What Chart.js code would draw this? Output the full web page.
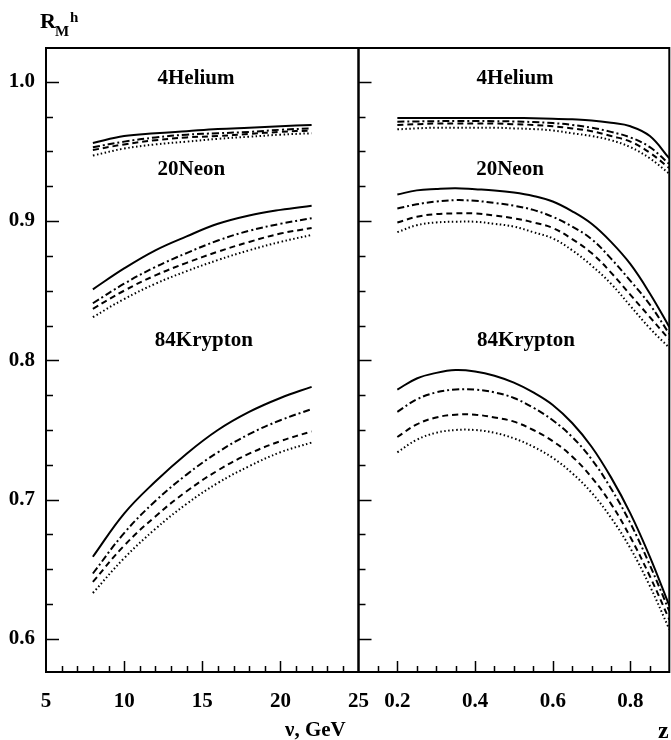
<!DOCTYPE html>
<html>
<head>
<meta charset="utf-8">
<script src="https://cdn.jsdelivr.net/npm/chart.js@4.4.1/dist/chart.umd.min.js"></script>
<style>
  html, body { margin: 0; padding: 0; background: #fff; }
  #wrap { position: relative; width: 671px; height: 740px; overflow: hidden; background: #fff; }
  canvas { position: absolute; left: 0; top: 0; }
  .lbl { position: absolute; font-family: "Liberation Serif", "Times New Roman", serif; font-weight: bold; color: #000; white-space: nowrap; line-height: 1; }
</style>
</head>
<body>
<div id="wrap">
  <canvas id="nuChart" width="671" height="740"></canvas>
  <canvas id="zChart" width="671" height="740"></canvas>
  <span class="lbl" style="left:40px; top:10px; font-size:22px;">R</span>
  <span class="lbl" style="left:55px; top:24px; font-size:15px;">M</span>
  <span class="lbl" style="left:70px; top:10px; font-size:15px;">h</span>
  <span class="lbl" style="left:285px; top:719px; font-size:21px;">ν, GeV</span>
  <span class="lbl" style="left:658px; top:718px; font-size:24px;">z</span>
</div>
<script>
// x positions of the computed points
const nuValues = [8, 10, 12, 14, 16, 18, 20, 22];
const zValues = [0.2, 0.25, 0.3, 0.35, 0.4, 0.45, 0.5, 0.55, 0.6, 0.65, 0.7, 0.75, 0.8, 0.85, 0.9];

// tick labels
const yTickValues = [0.6, 0.7, 0.8, 0.9, 1.0];
const nuTickValues = [5, 10, 15, 20, 25];
const zTickValues = [0.2, 0.4, 0.6, 0.8];
const nucleusNames = ['4Helium', '20Neon', '84Krypton'];

// R vs nu
const heliumNuSolid   = [0.956, 0.961, 0.963, 0.9645, 0.966, 0.967, 0.968, 0.969];
const heliumNuDashDot = [0.953, 0.957, 0.960, 0.962, 0.963, 0.964, 0.9655, 0.9665];
const heliumNuDashed  = [0.951, 0.955, 0.958, 0.960, 0.961, 0.9625, 0.964, 0.965];
const heliumNuDotted  = [0.947, 0.952, 0.955, 0.957, 0.959, 0.9605, 0.962, 0.963];

const neonNuSolid   = [0.851, 0.866, 0.879, 0.889, 0.898, 0.904, 0.908, 0.911];
const neonNuDashDot = [0.841, 0.855, 0.867, 0.877, 0.886, 0.893, 0.898, 0.902];
const neonNuDashed  = [0.837, 0.850, 0.861, 0.870, 0.878, 0.885, 0.891, 0.895];
const neonNuDotted  = [0.831, 0.844, 0.855, 0.864, 0.872, 0.879, 0.885, 0.890];

const kryptonNuSolid   = [0.659, 0.690, 0.713, 0.733, 0.750, 0.763, 0.773, 0.781];
const kryptonNuDashDot = [0.647, 0.676, 0.699, 0.718, 0.734, 0.747, 0.757, 0.765];
const kryptonNuDashed  = [0.641, 0.667, 0.688, 0.706, 0.721, 0.733, 0.742, 0.749];
const kryptonNuDotted  = [0.633, 0.658, 0.679, 0.697, 0.712, 0.724, 0.734, 0.741];

// R vs z
const heliumZSolid   = [0.974, 0.974, 0.974, 0.974, 0.974, 0.974, 0.974, 0.9738, 0.9735, 0.973, 0.9722, 0.9705, 0.968, 0.961, 0.945];
const heliumZDashDot = [0.9713, 0.9715, 0.9717, 0.9718, 0.9718, 0.9717, 0.9715, 0.971, 0.9703, 0.969, 0.967, 0.964, 0.960, 0.953, 0.941];
const heliumZDashed  = [0.969, 0.9695, 0.970, 0.970, 0.970, 0.970, 0.9695, 0.969, 0.968, 0.9665, 0.9645, 0.961, 0.957, 0.949, 0.938];
const heliumZDotted  = [0.9658, 0.9665, 0.967, 0.967, 0.967, 0.967, 0.9665, 0.966, 0.965, 0.963, 0.961, 0.958, 0.953, 0.945, 0.934];

const neonZSolid   = [0.919, 0.922, 0.923, 0.9235, 0.9228, 0.922, 0.9205, 0.918, 0.914, 0.907, 0.898, 0.885, 0.869, 0.848, 0.824];
const neonZDashDot = [0.909, 0.912, 0.914, 0.915, 0.9145, 0.913, 0.911, 0.908, 0.903, 0.896, 0.887, 0.873, 0.857, 0.840, 0.819];
const neonZDashed  = [0.899, 0.903, 0.905, 0.9055, 0.9055, 0.904, 0.902, 0.899, 0.895, 0.887, 0.877, 0.863, 0.847, 0.831, 0.815];
const neonZDotted  = [0.892, 0.897, 0.899, 0.8995, 0.8995, 0.898, 0.896, 0.892, 0.8875, 0.879, 0.868, 0.855, 0.839, 0.823, 0.809];

const kryptonZSolid   = [0.779, 0.787, 0.791, 0.793, 0.792, 0.789, 0.784, 0.777, 0.768, 0.755, 0.738, 0.716, 0.690, 0.659, 0.624];
const kryptonZDashDot = [0.763, 0.772, 0.777, 0.779, 0.779, 0.777, 0.773, 0.766, 0.757, 0.745, 0.729, 0.708, 0.683, 0.653, 0.620];
const kryptonZDashed  = [0.745, 0.754, 0.759, 0.761, 0.761, 0.759, 0.756, 0.750, 0.742, 0.731, 0.716, 0.697, 0.673, 0.645, 0.614];
const kryptonZDotted  = [0.734, 0.743, 0.748, 0.750, 0.750, 0.748, 0.744, 0.738, 0.730, 0.719, 0.705, 0.687, 0.665, 0.638, 0.607];

const Y_MIN = 0.5763, Y_MAX = 1.0242;
const FONT = '"Liberation Serif", "Times New Roman", serif';

const lineStyles = [
    { dash: [], width: 2 },
    { dash: [7, 3, 2, 3], width: 2 },
    { dash: [6, 4], width: 2 },
    { dash: [1.5, 2.5], width: 2 }
];

function makeDatasets(xs, groups) {
    const out = [];
    groups.forEach(curves => {
        curves.forEach((ys, i) => {
            out.push({
                data: xs.map((x, k) => ({ x: x, y: ys[k] })),
                borderColor: '#000',
                borderWidth: lineStyles[i].width,
                borderDash: lineStyles[i].dash,
                pointRadius: 0,
                fill: false,
                tension: 0.4
            });
        });
    });
    return out;
}

// frame, inward ticks and panel captions
const framePlugin = {
    id: 'frame',
    afterDraw(chart, args, opts) {
        const { ctx, chartArea: a, scales } = chart;
        const x = scales.x, y = scales.y;
        ctx.save();
        ctx.strokeStyle = '#000';
        ctx.lineWidth = 2;
        ctx.strokeRect(a.left, a.top, a.right - a.left, a.bottom - a.top);

        ctx.lineWidth = 1.5;
        ctx.beginPath();
        for (let k = 24; k <= 40; k++) {
            const py = Math.round(y.getPixelForValue(k * 0.025)) + 0.5;
            const len = k % 4 === 0 ? 13 : 7;
            ctx.moveTo(a.left, py);
            ctx.lineTo(a.left + len, py);
        }
        for (let k = opts.kFrom; k <= opts.kTo; k++) {
            const px = Math.round(x.getPixelForValue(k * opts.step)) + 0.5;
            const len = k % opts.majorEvery === 0 ? 11 : 6;
            ctx.moveTo(px, a.bottom);
            ctx.lineTo(px, a.bottom - len);
        }
        ctx.stroke();

        ctx.fillStyle = '#000';
        ctx.font = 'bold 21px ' + FONT;
        ctx.textAlign = 'center';
        ctx.textBaseline = 'middle';
        opts.captions.forEach(c => {
            ctx.fillText(c.text, x.getPixelForValue(c.x), y.getPixelForValue(c.y) + 1);
        });
        ctx.restore();
    }
};

function makeOptions(xMin, xMax, xTicks, fmt, showY, padLeft, padRight, frameOpts) {
    return {
        responsive: false,
        animation: false,
        layout: { autoPadding: false, padding: { left: padLeft, right: padRight, top: 48, bottom: 0 } },
        plugins: { legend: { display: false }, tooltip: { enabled: false }, frame: frameOpts },
        scales: {
            x: {
                type: 'linear', min: xMin, max: xMax,
                afterBuildTicks: s => { s.ticks = xTicks.map(v => ({ value: v })); },
                afterFit: s => { s.height = 68; },
                grid: { display: false, drawTicks: false },
                border: { display: false },
                ticks: { padding: 17, maxRotation: 0, color: '#000', font: { family: FONT, size: 21, weight: 'bold' }, callback: fmt }
            },
            y: {
                type: 'linear', min: Y_MIN, max: Y_MAX, display: showY,
                afterBuildTicks: s => { s.ticks = yTickValues.map(v => ({ value: v })); },
                afterFit: s => { s.width = showY ? 46 : 0; },
                grid: { display: false, drawTicks: false },
                border: { display: false },
                ticks: { padding: 11, color: '#000', font: { family: FONT, size: 21, weight: 'bold' }, callback: v => v.toFixed(1) }
            }
        }
    };
}

new Chart(document.getElementById('nuChart').getContext('2d'), {
    type: 'line',
    data: {
        datasets: makeDatasets(nuValues, [
            [heliumNuSolid, heliumNuDashDot, heliumNuDashed, heliumNuDotted],
            [neonNuSolid, neonNuDashDot, neonNuDashed, neonNuDotted],
            [kryptonNuSolid, kryptonNuDashDot, kryptonNuDashed, kryptonNuDotted]
        ])
    },
    options: makeOptions(5, 25, nuTickValues, v => String(v), true, 0, 312.5, {
        kFrom: 6, kTo: 24, step: 1, majorEvery: 5,
        captions: [
            { text: nucleusNames[0], x: 14.6, y: 1.003 },
            { text: nucleusNames[1], x: 14.3, y: 0.938 },
            { text: nucleusNames[2], x: 15.1, y: 0.815 }
        ]
    }),
    plugins: [framePlugin]
});

new Chart(document.getElementById('zChart').getContext('2d'), {
    type: 'line',
    data: {
        datasets: makeDatasets(zValues, [
            [heliumZSolid, heliumZDashDot, heliumZDashed, heliumZDotted],
            [neonZSolid, neonZDashDot, neonZDashed, neonZDotted],
            [kryptonZSolid, kryptonZDashDot, kryptonZDashed, kryptonZDotted]
        ])
    },
    options: makeOptions(0.1, 0.9, zTickValues, v => v.toFixed(1), false, 358.5, 1.7, {
        kFrom: 3, kTo: 17, step: 0.05, majorEvery: 4,
        captions: [
            { text: nucleusNames[0], x: 0.503, y: 1.003 },
            { text: nucleusNames[1], x: 0.49, y: 0.938 },
            { text: nucleusNames[2], x: 0.531, y: 0.815 }
        ]
    }),
    plugins: [framePlugin]
});
</script>
</body>
</html>
